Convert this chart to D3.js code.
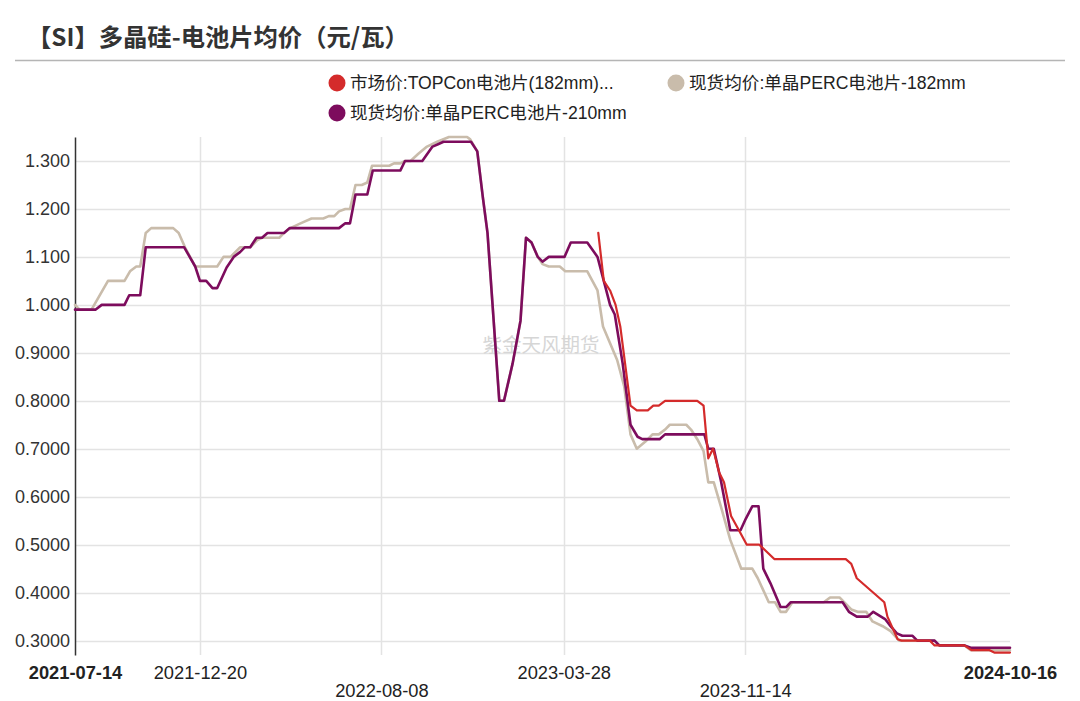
<!DOCTYPE html>
<html><head><meta charset="utf-8">
<script src="https://cdn.jsdelivr.net/npm/d3@7"></script>
<style>
body{margin:0;background:#fff;}
svg{display:block;}
</style></head>
<body>
<svg id="chart" width="1080" height="701"></svg>
<script>
const chartTitle = "【SI】多晶硅-电池片均价（元/瓦）";
const seriesNames = ["市场价:TOPCon电池片(182mm)...", "现货均价:单晶PERC电池片-182mm", "现货均价:单晶PERC电池片-210mm"];
const seriesColors = ["#d42b2b", "#c9bcab", "#7d0c5d"];
const yTickValues = [0.3,0.4,0.5,0.6,0.7,0.8,0.9,1.0,1.1,1.2,1.3];
const xTickLabels = ["2021-07-14","2021-12-20","2022-08-08","2023-03-28","2023-11-14","2024-10-16"];

const topconDates = ["2023-05-11","2023-05-18","2023-05-26","2023-06-02","2023-06-08","2023-06-21","2023-06-29","2023-07-13","2023-07-20","2023-07-27","2023-08-04","2023-09-14","2023-09-22","2023-09-28","2023-10-04","2023-10-12","2023-10-18","2023-10-27","2023-11-06","2023-11-16","2023-12-02","2023-12-21","2024-03-21","2024-03-28","2024-04-04","2024-05-09","2024-05-13","2024-05-26","2024-05-31","2024-07-06","2024-07-12","2024-08-19","2024-08-28","2024-09-20","2024-09-26","2024-10-16"];
const topconValues = [1.15,1.05,1.03,1.00,0.955,0.79,0.78,0.78,0.79,0.79,0.80,0.80,0.79,0.68,0.70,0.65,0.63,0.56,0.53,0.50,0.50,0.47,0.47,0.46,0.43,0.38,0.35,0.303,0.30,0.30,0.29,0.29,0.28,0.28,0.275,0.275];

const perc182Dates = ["2021-07-14","2021-07-20","2021-08-04","2021-08-25","2021-09-15","2021-09-22","2021-09-30","2021-10-05","2021-10-12","2021-10-19","2021-11-16","2021-11-23","2021-12-01","2021-12-14","2022-01-11","2022-01-19","2022-01-28","2022-02-09","2022-02-22","2022-03-03","2022-03-09","2022-03-31","2022-04-06","2022-04-14","2022-04-27","2022-05-11","2022-05-26","2022-06-02","2022-06-09","2022-06-15","2022-06-23","2022-06-29","2022-07-06","2022-07-14","2022-07-21","2022-07-27","2022-08-18","2022-08-24","2022-09-01","2022-09-07","2022-09-14","2022-09-24","2022-10-05","2022-10-18","2022-11-02","2022-11-25","2022-11-29","2022-12-08","2022-12-15","2022-12-21","2023-01-05","2023-01-11","2023-01-22","2023-02-01","2023-02-08","2023-02-15","2023-02-23","2023-03-01","2023-03-09","2023-03-23","2023-03-30","2023-04-27","2023-05-10","2023-05-17","2023-05-26","2023-06-04","2023-06-13","2023-06-21","2023-06-29","2023-07-10","2023-07-19","2023-07-27","2023-08-04","2023-08-10","2023-08-31","2023-09-06","2023-09-14","2023-09-22","2023-09-28","2023-10-05","2023-10-14","2023-10-26","2023-11-09","2023-11-23","2023-11-30","2023-12-14","2023-12-22","2023-12-29","2024-01-05","2024-01-13","2024-02-22","2024-03-01","2024-03-13","2024-03-28","2024-04-05","2024-04-16","2024-04-24","2024-05-07","2024-05-17","2024-05-28","2024-07-12","2024-07-18","2024-08-19","2024-08-27","2024-10-16"];
const perc182Values = [1.00,0.99,0.99,1.05,1.05,1.07,1.08,1.08,1.15,1.16,1.16,1.15,1.12,1.08,1.08,1.10,1.10,1.12,1.12,1.135,1.14,1.14,1.15,1.16,1.17,1.18,1.18,1.185,1.185,1.195,1.20,1.20,1.25,1.25,1.255,1.29,1.29,1.295,1.295,1.30,1.30,1.315,1.33,1.34,1.35,1.35,1.345,1.32,1.225,1.15,0.80,0.80,0.878,0.967,1.14,1.13,1.10,1.085,1.08,1.08,1.07,1.07,1.03,0.955,0.92,0.885,0.83,0.73,0.70,0.715,0.73,0.73,0.74,0.75,0.75,0.74,0.72,0.695,0.63,0.63,0.58,0.51,0.45,0.45,0.43,0.38,0.38,0.36,0.36,0.38,0.38,0.39,0.39,0.365,0.36,0.36,0.34,0.33,0.32,0.30,0.30,0.29,0.29,0.28,0.28];

const perc210Dates = ["2021-07-14","2021-08-09","2021-08-17","2021-09-15","2021-09-21","2021-10-05","2021-10-12","2021-11-30","2021-12-14","2021-12-20","2021-12-28","2022-01-05","2022-01-11","2022-01-23","2022-02-01","2022-02-09","2022-02-15","2022-02-22","2022-03-02","2022-03-09","2022-03-16","2022-04-06","2022-04-13","2022-06-15","2022-06-23","2022-06-29","2022-07-06","2022-07-21","2022-07-28","2022-09-01","2022-09-07","2022-09-29","2022-10-12","2022-10-19","2022-10-26","2022-11-30","2022-12-08","2022-12-15","2022-12-21","2023-01-05","2023-01-11","2023-01-22","2023-02-01","2023-02-08","2023-02-15","2023-02-23","2023-03-01","2023-03-09","2023-03-29","2023-04-06","2023-04-27","2023-05-10","2023-05-18","2023-05-26","2023-06-01","2023-06-11","2023-06-21","2023-06-30","2023-07-06","2023-07-28","2023-08-04","2023-09-23","2023-09-28","2023-10-05","2023-10-14","2023-10-26","2023-11-08","2023-11-15","2023-11-23","2023-12-01","2023-12-07","2023-12-16","2023-12-29","2024-01-05","2024-01-11","2024-03-17","2024-03-25","2024-04-04","2024-04-18","2024-04-25","2024-05-10","2024-05-17","2024-05-25","2024-06-01","2024-06-14","2024-06-20","2024-07-12","2024-07-18","2024-08-19","2024-08-27","2024-10-16"];
const perc210Values = [0.99,0.99,1.00,1.00,1.02,1.02,1.12,1.12,1.08,1.05,1.05,1.035,1.035,1.078,1.10,1.11,1.12,1.12,1.14,1.14,1.15,1.15,1.16,1.16,1.17,1.17,1.23,1.23,1.28,1.28,1.30,1.30,1.33,1.335,1.34,1.34,1.32,1.225,1.15,0.80,0.80,0.878,0.967,1.14,1.13,1.10,1.09,1.10,1.10,1.13,1.13,1.10,1.05,1.00,0.98,0.878,0.75,0.725,0.72,0.72,0.73,0.73,0.70,0.70,0.634,0.53,0.53,0.555,0.58,0.58,0.45,0.42,0.37,0.37,0.38,0.38,0.36,0.35,0.35,0.36,0.345,0.33,0.315,0.31,0.31,0.30,0.30,0.29,0.29,0.285,0.285];

const parse = d3.timeParse("%Y-%m-%d");
function build(dates, values){ return dates.map((d,i)=>({date:parse(d), value:values[i]})); }
const series = [
  {name: seriesNames[1], color: seriesColors[1], width: 2.6, data: build(perc182Dates, perc182Values)},
  {name: seriesNames[2], color: seriesColors[2], width: 2.6, data: build(perc210Dates, perc210Values)},
  {name: seriesNames[0], color: seriesColors[0], width: 2.2, data: build(topconDates, topconValues)}
];

const svg = d3.select("#chart");
const pL = 75, pR = 1010, pT = 137, pB = 655;

const x = d3.scaleTime().domain([parse(xTickLabels[0]), parse(xTickLabels[xTickLabels.length-1])]).range([pL, pR]);
const y = d3.scaleLinear().domain([0.27, 1.35]).range([pB, pT]);

// Title
svg.append("text").attr("x", 27).attr("y", 46)
  .attr("font-family", "'Noto Sans CJK SC', sans-serif").attr("font-weight", 700)
  .attr("font-size", 24.3).attr("fill", "#333").text(chartTitle);
svg.append("line").attr("x1", 15).attr("x2", 1065).attr("y1", 60.5).attr("y2", 60.5)
  .attr("stroke", "#b5b5b5").attr("stroke-width", 1.5);

// Legend
const legendItems = [
  {i:0, lx:337, ly:83},
  {i:1, lx:676, ly:83},
  {i:2, lx:337, ly:113}
];
legendItems.forEach(it=>{
  svg.append("circle").attr("cx", it.lx).attr("cy", it.ly).attr("r", 8.5).attr("fill", seriesColors[it.i]);
  svg.append("text").attr("x", it.lx+13).attr("y", it.ly+6)
    .attr("font-family", "'Liberation Sans','Noto Sans CJK SC', sans-serif")
    .attr("font-size", 17.6).attr("fill", "#222").text(seriesNames[it.i]);
});

// Grid
const g = svg.append("g");
g.selectAll(".hg").data(yTickValues).join("line")
  .attr("x1", pL).attr("x2", pR)
  .attr("y1", d=>Math.round(y(d))+0.5).attr("y2", d=>Math.round(y(d))+0.5)
  .attr("stroke", "#e3e3e3").attr("stroke-width", 1.5);
const xTicks = xTickLabels.map(parse);
g.selectAll(".vg").data(xTicks.slice(1, -1)).join("line")
  .attr("x1", d=>Math.round(x(d))+0.5).attr("x2", d=>Math.round(x(d))+0.5)
  .attr("y1", pT).attr("y2", pB)
  .attr("stroke", "#e3e3e3").attr("stroke-width", 1.5);

// Watermark
svg.append("text").attr("x", 541).attr("y", 352).attr("text-anchor", "middle")
  .attr("font-family", "'Noto Sans CJK SC', sans-serif").attr("font-size", 19.5)
  .attr("fill", "#d6d6d6").text("紫金天风期货");

// Y axis
const yAxis = d3.axisLeft(y).tickValues(yTickValues).tickSize(0).tickPadding(5)
  .tickFormat(d => d >= 1 ? d.toFixed(3) : d.toFixed(4));
const ya = svg.append("g").attr("transform", `translate(${pL},0)`).call(yAxis);
ya.select(".domain").attr("stroke", "#333").attr("stroke-width", 1.5);
ya.selectAll("text").attr("font-family", "'Liberation Sans', Arial, sans-serif")
  .attr("font-size", 18).attr("fill", "#333");

// X axis
const xAxis = d3.axisBottom(x).tickValues(xTicks).tickSize(0)
  .tickFormat(d3.timeFormat("%Y-%m-%d"));
const xa = svg.append("g").attr("transform", `translate(0,${pB})`).call(xAxis);
xa.select(".domain").remove();
xa.selectAll("text")
  .attr("font-family", "'Liberation Sans', Arial, sans-serif")
  .attr("font-size", 18.3).attr("fill", "#222")
  .attr("dy", 0)
  .attr("y", (d,i)=> (i===2 || i===4) ? 42 : 24)
  .attr("font-weight", (d,i)=> (i===0 || i===xTicks.length-1) ? 700 : 400);

// Lines
const line = d3.line().x(d=>x(d.date)).y(d=>y(d.value)).curve(d3.curveLinear);
svg.append("g").selectAll("path").data(series).join("path")
  .attr("d", s=>line(s.data)).attr("fill", "none")
  .attr("stroke", s=>s.color).attr("stroke-width", s=>s.width)
  .attr("stroke-linejoin", "round").attr("stroke-linecap", "round");
</script>
</body></html>
